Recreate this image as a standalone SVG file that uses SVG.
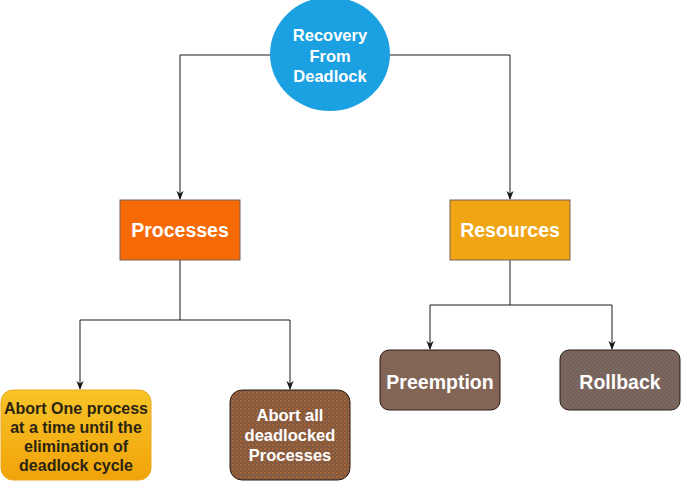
<svg xmlns="http://www.w3.org/2000/svg" width="681" height="481" viewBox="0 0 681 481">
<defs>
<style>
text{font-family:"Liberation Sans",Arial,sans-serif;font-weight:bold;text-anchor:middle}
.w{fill:#ffffff}
.d{fill:#2b2410}
.edge{fill:none;stroke:#1a1a1a;stroke-width:1}
.box{stroke:#7a6050;stroke-width:1}
.rb{stroke:#2b1d14;stroke-width:1}
</style>
<marker id="arr" viewBox="0 0 10 10" refX="9" refY="5" markerWidth="9" markerHeight="9" orient="auto" markerUnits="userSpaceOnUse">
<path d="M0,1 L10,5 L0,9 L3,5 Z" fill="#1a1a1a"/>
</marker>
<linearGradient id="yel" x1="0" y1="0" x2="0" y2="1">
<stop offset="0" stop-color="#F8C428"/>
<stop offset="1" stop-color="#F0A30A"/>
</linearGradient>
<pattern id="dotO" width="4" height="4" patternUnits="userSpaceOnUse">
<rect width="4" height="4" fill="#7E5A45"/>
<circle cx="1" cy="1" r="0.8" fill="#E2701E"/>
<circle cx="3" cy="3" r="0.6" fill="#C8641E"/>
</pattern>
<pattern id="dotB" width="4" height="4" patternUnits="userSpaceOnUse">
<rect width="4" height="4" fill="#7E5E50"/>
<circle cx="1" cy="1" r="0.6" fill="#3FA0D8"/>
<circle cx="3" cy="3" r="0.5" fill="#5590B0"/>
</pattern>
</defs>
<g id="connectors">
<path class="edge" d="M272,55 H180 V199" marker-end="url(#arr)"/>
<path class="edge" d="M388,55 H510 V199" marker-end="url(#arr)"/>
<path class="edge" d="M180,260 V320 H80 V389" marker-end="url(#arr)"/>
<path class="edge" d="M180,320 H290 V389" marker-end="url(#arr)"/>
<path class="edge" d="M510,260 V305 H430 V349" marker-end="url(#arr)"/>
<path class="edge" d="M510,305 H612 V349" marker-end="url(#arr)"/>
</g>
<g id="root">
<ellipse cx="330" cy="54" rx="60" ry="57" fill="#1BA1E2"/>
<text class="w" x="330" y="41" font-size="16.5">Recovery</text>
<text class="w" x="330" y="62" font-size="16.5">From</text>
<text class="w" x="330" y="82" font-size="16.5">Deadlock</text>
</g>
<g id="processes">
<rect class="box" x="120" y="200" width="120" height="60" fill="#F66A06"/>
<text class="w" x="180" y="237" font-size="19.5">Processes</text>
</g>
<g id="resources">
<rect class="box" x="450" y="200" width="120" height="60" fill="#F0A515"/>
<text class="w" x="510" y="237" font-size="19.5">Resources</text>
</g>
<g id="abort-one">
<rect x="1" y="390" width="150" height="90" rx="12" fill="url(#yel)" stroke="#EBA91A" stroke-width="1"/>
<text class="d" x="76" y="414" font-size="16">Abort One process</text>
<text class="d" x="76" y="433" font-size="16">at a time until the</text>
<text class="d" x="76" y="452" font-size="16">elimination of</text>
<text class="d" x="76" y="471" font-size="16">deadlock cycle</text>
</g>
<g id="abort-all">
<rect class="rb" x="230" y="390" width="120" height="90" rx="12" fill="url(#dotO)"/>
<text class="w" x="290" y="421" font-size="16.5">Abort all</text>
<text class="w" x="290" y="441" font-size="16.5">deadlocked</text>
<text class="w" x="290" y="461" font-size="16.5">Processes</text>
</g>
<g id="preemption">
<rect class="rb" x="380" y="350" width="120" height="60" rx="9" fill="#836556"/>
<text class="w" x="440" y="389" font-size="19.5">Preemption</text>
</g>
<g id="rollback">
<rect class="rb" x="560" y="350" width="120" height="60" rx="9" fill="url(#dotB)"/>
<text class="w" x="620" y="389" font-size="19.5">Rollback</text>
</g>
</svg>
